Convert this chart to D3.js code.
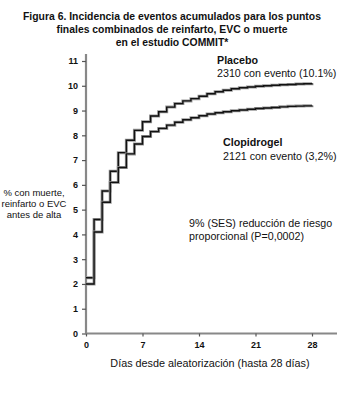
<!DOCTYPE html>
<html><head><meta charset="utf-8">
<script src="https://cdn.jsdelivr.net/npm/d3@7"></script>
<style>body{margin:0;background:#fff}svg{display:block}text{font-family:"Liberation Sans",Arial,sans-serif;fill:#111}</style>
</head><body><svg id="c" width="360" height="399"></svg>
<script>
const days = d3.range(0, 29);
const placebo = [2.25,4.6,5.75,6.55,7.3,7.8,8.2,8.55,8.78,8.95,9.14,9.28,9.39,9.48,9.58,9.68,9.76,9.82,9.88,9.92,9.95,9.98,10.0,10.02,10.04,10.05,10.07,10.08,10.1];
const clopidogrel = [2.0,4.1,5.3,6.1,6.7,7.25,7.65,7.95,8.15,8.28,8.41,8.53,8.63,8.71,8.79,8.86,8.91,8.95,8.99,9.02,9.05,9.08,9.1,9.12,9.15,9.17,9.18,9.19,9.2];
const xTicks = [0,7,14,21,28];
const yTicks = d3.range(0,12);
const titleLines = ["Figura 6. Incidencia de eventos acumulados para los puntos","finales combinados de reinfarto, EVC o muerte","en el estudio COMMIT*"];
const yLabelLines = ["% con muerte,","reinfarto o EVC","antes de alta"];

const svg = d3.select("#c");
const x = d3.scaleLinear().domain([0,28]).range([86,312]);
const y = d3.scaleLinear().domain([0,11]).range([333.5,61]);

// title
svg.append("g").selectAll("text").data(titleLines).join("text")
  .attr("x",172).attr("y",(d,i)=>20+i*13).attr("text-anchor","middle")
  .attr("font-size",10.4).attr("font-weight","bold").text(d=>d);

// axes
const ax = svg.append("g").attr("transform",`translate(0,${y(0)})`)
  .call(d3.axisBottom(x).tickValues(xTicks).tickSize(3).tickSizeOuter(0).tickPadding(5));
ax.select(".domain").attr("d",`M${x(0)},0H337`);
const ay = svg.append("g").attr("transform",`translate(${x(0)},0)`)
  .call(d3.axisLeft(y).tickValues(yTicks).tickSize(4).tickSizeOuter(0).tickPadding(4));
ay.select(".domain").attr("d",`M0,${y(0)}V54`);
svg.selectAll(".domain").attr("stroke","#888").attr("stroke-width",2.2);
svg.selectAll(".tick line").attr("stroke","#555").attr("stroke-width",1.2);
svg.selectAll(".tick text").attr("font-size",9).attr("font-weight","bold").style("font-family","Liberation Sans, Arial").attr("fill","#111");

// lines
const line = d3.line().x((d,i)=>x(days[i])).y(d=>y(d)).curve(d3.curveStepAfter);
[placebo, clopidogrel].forEach(s=>{
  svg.append("path").datum(s).attr("d",line).attr("fill","none").attr("stroke","#999").attr("stroke-width",3);
  svg.append("path").datum(s).attr("d",line).attr("fill","none").attr("stroke","#111").attr("stroke-width",1.4);
});

// labels
const t = (txt,xx,yy,bold)=>svg.append("text").attr("x",xx).attr("y",yy).attr("font-size",10.7).attr("font-weight",bold?"bold":"normal").text(txt);
t("Placebo",217,64,true);
t("2310 con evento (10.1%)",217,77,false);
t("Clopidrogel",223,146,true);
t("2121 con evento (3,2%)",223,160,false);
t("9% (SES) reducción de riesgo",189,227,false);
t("proporcional (P=0,0002)",189,240,false);
svg.append("g").selectAll("text").data(yLabelLines).join("text")
  .attr("x",34).attr("y",(d,i)=>196+i*11).attr("text-anchor","middle").attr("font-size",9.5).text(d=>d);
svg.append("text").attr("x",210).attr("y",367).attr("text-anchor","middle").attr("font-size",10.8).text("Días desde aleatorización (hasta 28 días)");
</script></body></html>
